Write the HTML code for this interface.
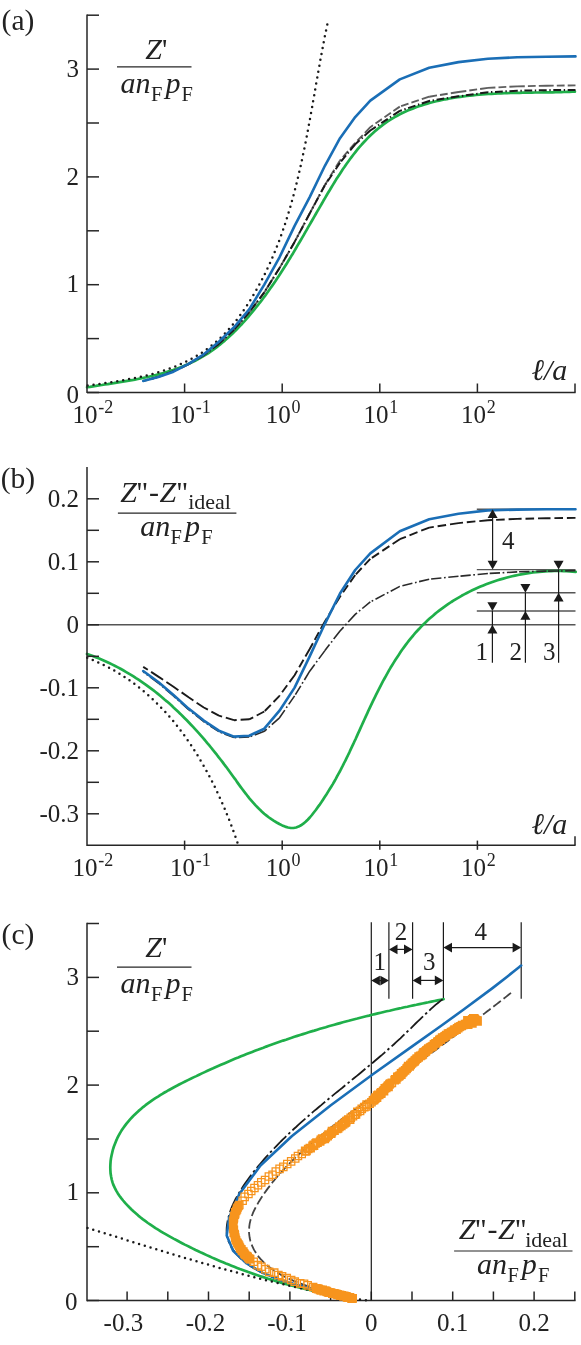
<!DOCTYPE html>
<html><head><meta charset="utf-8"><title>Figure</title>
<style>html,body{margin:0;padding:0;background:#fff}svg{display:block;will-change:transform}text{font-family:"Liberation Serif",serif;fill:#222}.i{font-style:italic}</style></head><body>
<svg width="581" height="1345" viewBox="0 0 581 1345">
<rect width="581" height="1345" fill="#fff"/>
<path d="M87.1,387.2 L90.0,386.8 L93.0,386.3 L95.9,385.9 L98.8,385.4 L101.8,385.0 L104.8,384.5 L107.8,384.1 L110.7,383.6 L113.7,383.2 L116.7,382.7 L119.7,382.2 L122.8,381.7 L125.8,381.2 L128.8,380.7 L131.8,380.2 L134.8,379.6 L137.8,379.0 L140.8,378.4 L143.8,377.8 L146.7,377.2 L149.7,376.5 L152.7,375.8 L155.6,375.1 L158.6,374.3 L161.5,373.5 L164.4,372.7 L167.3,371.8 L170.2,370.9 L173.1,370.0 L175.9,369.0 L178.7,367.9 L181.5,366.9 L184.3,365.7 L187.1,364.6 L189.8,363.3 L192.5,362.1 L195.2,360.7 L197.8,359.4 L200.4,357.9 L203.0,356.4 L205.5,354.9 L208.1,353.3 L210.5,351.6 L213.0,349.9 L215.4,348.1 L217.8,346.3 L220.2,344.4 L222.5,342.5 L224.8,340.6 L227.1,338.6 L229.3,336.5 L231.5,334.5 L233.7,332.4 L235.9,330.2 L238.0,328.1 L240.1,325.9 L242.2,323.7 L244.3,321.4 L246.3,319.1 L248.3,316.9 L250.3,314.5 L252.2,312.2 L254.1,309.9 L256.0,307.5 L257.9,305.2 L259.7,302.8 L261.6,300.4 L263.4,298.0 L265.2,295.6 L266.9,293.2 L268.7,290.7 L270.4,288.3 L272.1,285.9 L273.8,283.4 L275.5,280.9 L277.1,278.4 L278.8,275.9 L280.4,273.4 L282.0,270.9 L283.6,268.4 L285.2,265.9 L286.8,263.4 L288.4,260.8 L290.0,258.3 L291.5,255.7 L293.1,253.2 L294.6,250.6 L296.1,248.0 L297.6,245.4 L299.2,242.8 L300.7,240.3 L302.2,237.7 L303.7,235.1 L305.2,232.4 L306.7,229.8 L308.2,227.2 L309.7,224.6 L311.2,222.0 L312.8,219.3 L314.3,216.7 L315.8,214.0 L317.3,211.4 L318.8,208.8 L320.4,206.1 L321.9,203.5 L323.4,200.8 L325.0,198.1 L326.5,195.5 L328.1,192.8 L329.7,190.2 L331.3,187.5 L332.9,184.9 L334.5,182.3 L336.1,179.6 L337.8,177.0 L339.5,174.4 L341.1,171.9 L342.8,169.3 L344.6,166.8 L346.3,164.2 L348.1,161.8 L349.9,159.3 L351.7,156.9 L353.5,154.5 L355.4,152.1 L357.3,149.7 L359.2,147.4 L361.2,145.2 L363.1,143.0 L365.2,140.8 L367.2,138.6 L369.3,136.5 L371.4,134.5 L373.6,132.5 L375.7,130.6 L378.0,128.7 L380.2,126.9 L382.5,125.1 L384.9,123.4 L387.3,121.7 L389.7,120.1 L392.2,118.6 L394.7,117.1 L397.2,115.7 L399.8,114.3 L402.4,113.0 L405.1,111.8 L407.7,110.6 L410.5,109.5 L413.2,108.4 L416.0,107.3 L418.8,106.3 L421.6,105.4 L424.5,104.5 L427.4,103.6 L430.3,102.8 L433.2,102.0 L436.2,101.3 L439.1,100.6 L442.1,100.0 L445.1,99.3 L448.2,98.8 L451.2,98.2 L454.2,97.7 L457.3,97.2 L460.4,96.8 L463.5,96.4 L466.6,96.0 L469.7,95.6 L472.8,95.3 L476.0,95.0 L479.1,94.7 L482.2,94.5 L485.4,94.2 L488.5,94.0 L491.6,93.8 L494.8,93.7 L497.9,93.5 L501.0,93.4 L504.2,93.2 L507.3,93.1 L510.4,93.0 L513.5,92.9 L516.6,92.9 L519.7,92.8 L522.8,92.7 L525.8,92.7 L528.9,92.6 L531.9,92.6 L535.0,92.5 L538.0,92.5 L540.9,92.5 L543.9,92.4 L546.9,92.4 L549.8,92.3 L552.7,92.3 L555.6,92.2 L558.4,92.2 L561.2,92.1 L564.0,92.0 L566.8,91.9 L569.5,91.8 L572.2,91.7 L574.9,91.6" fill="none" stroke="#1faf4a" stroke-width="2.7" stroke-linejoin="round" stroke-linecap="round"/>
<path d="M87.6,385.6 L90.5,385.2 L93.3,384.8 L96.2,384.4 L99.2,384.0 L102.1,383.5 L105.1,383.1 L108.0,382.6 L111.0,382.2 L114.0,381.7 L117.0,381.2 L120.0,380.7 L123.0,380.2 L126.0,379.7 L129.0,379.1 L132.0,378.6 L135.0,378.0 L138.1,377.3 L141.1,376.7 L144.1,376.0 L147.1,375.3 L150.0,374.5 L153.0,373.8 L156.0,373.0 L158.9,372.1 L161.8,371.2 L164.8,370.3 L167.6,369.3 L170.5,368.3 L173.4,367.2 L176.2,366.1 L179.0,364.9 L181.7,363.7 L184.5,362.4 L187.2,361.1 L189.8,359.7 L192.5,358.3 L195.1,356.8 L197.7,355.3 L200.2,353.7 L202.7,352.1 L205.2,350.4 L207.6,348.7 L210.0,346.9 L212.3,345.0 L214.6,343.1 L216.9,341.2 L219.1,339.2 L221.2,337.1 L223.4,335.0 L225.5,332.9 L227.5,330.7 L229.5,328.5 L231.5,326.2 L233.4,323.9 L235.3,321.6 L237.2,319.2 L239.0,316.8 L240.8,314.4 L242.5,311.9 L244.2,309.5 L245.9,307.0 L247.6,304.4 L249.2,301.9 L250.8,299.3 L252.4,296.8 L253.9,294.2 L255.5,291.6 L256.9,289.0 L258.4,286.3 L259.8,283.7 L261.2,281.1 L262.6,278.4 L264.0,275.7 L265.3,273.0 L266.6,270.3 L267.9,267.6 L269.2,264.9 L270.4,262.2 L271.6,259.4 L272.8,256.7 L274.0,253.9 L275.1,251.1 L276.2,248.3 L277.3,245.5 L278.4,242.7 L279.5,239.9 L280.5,237.1 L281.5,234.3 L282.5,231.4 L283.5,228.6 L284.5,225.7 L285.4,222.8 L286.3,220.0 L287.2,217.1 L288.1,214.2 L289.0,211.3 L289.9,208.4 L290.7,205.5 L291.5,202.6 L292.3,199.6 L293.1,196.7 L293.9,193.8 L294.7,190.8 L295.4,187.9 L296.2,184.9 L296.9,182.0 L297.6,179.0 L298.3,176.1 L299.0,173.1 L299.7,170.1 L300.4,167.2 L301.0,164.2 L301.7,161.2 L302.3,158.2 L302.9,155.2 L303.6,152.2 L304.2,149.2 L304.8,146.3 L305.4,143.3 L306.0,140.3 L306.6,137.3 L307.1,134.3 L307.7,131.3 L308.3,128.3 L308.8,125.3 L309.4,122.3 L309.9,119.3 L310.5,116.3 L311.0,113.3 L311.5,110.3 L312.1,107.3 L312.6,104.3 L313.1,101.3 L313.6,98.3 L314.2,95.4 L314.7,92.4 L315.2,89.4 L315.7,86.4 L316.2,83.4 L316.8,80.5 L317.3,77.5 L317.8,74.5 L318.3,71.6 L318.9,68.6 L319.4,65.7 L319.9,62.7 L320.4,59.8 L321.0,56.8 L321.5,53.9 L322.1,51.0 L322.6,48.1 L323.2,45.1 L323.7,42.2 L324.3,39.3 L324.8,36.4 L325.4,33.6 L326.0,30.7 L326.6,27.8 L327.2,25.0 L327.8,22.1" fill="none" stroke="#1a1a1a" stroke-width="2.5" stroke-linejoin="round" stroke-dasharray="0 6" stroke-linecap="round"/>
<path d="M575.5,85.4L567.7,85.5M564.6,85.5L556.8,85.6M553.7,85.6L546.5,85.7M546.5,85.7L538.8,85.9M535.7,85.9L527.9,86.1M524.8,86.2L517.2,86.4M517.2,86.4L509.4,86.8M506.3,86.9L498.5,87.4M495.4,87.5L487.9,87.9M487.9,87.9L480.1,89.0M477.1,89.4L469.3,90.5M466.3,91.0L458.5,92.0M458.5,92.0L450.8,93.3M447.7,93.7L440.0,95.0M437.0,95.4L429.3,96.7M429.2,96.7L421.8,99.2M418.8,100.2L411.4,102.6M408.5,103.6L401.1,106.1M399.8,106.6L393.4,111.0M390.9,112.8L384.5,117.3M381.9,119.1L375.5,123.5M373.0,125.3L370.3,127.2M370.3,127.2L364.9,132.8M362.8,135.1L357.4,140.7M355.2,142.9L355.2,143.0M355.2,143.0L350.0,148.9M348.0,151.2L342.9,157.1M340.9,159.4L340.0,160.4M340.0,160.4L335.9,167.0M334.3,169.7L330.2,176.3M328.6,178.9L324.9,184.9M324.9,184.9L321.2,191.8M319.8,194.5L316.1,201.4M314.6,204.1L311.0,211.0M309.7,213.4L306.1,220.3M304.6,223.0L301.0,229.9M299.5,232.6L295.9,239.5M294.6,242.0L290.7,248.7M289.1,251.4L285.2,258.1M283.7,260.8L279.8,267.6M279.5,268.1L275.3,274.7M273.7,277.3L269.6,284.0M267.9,286.6L264.3,292.4M264.3,292.4L259.6,298.6M257.7,301.1L253.0,307.3M251.2,309.8L249.2,312.4M249.2,312.4L244.0,318.3M242.0,320.6L236.8,326.5M234.8,328.8L234.0,329.7M234.0,329.7L228.4,335.0M226.1,337.1L220.4,342.5M218.9,343.9L212.6,348.5M210.1,350.4L203.9,355.0M203.8,355.1L197.1,359.1M194.4,360.7L188.6,364.2M188.6,364.2L181.5,367.5M178.7,368.8L173.5,371.2M173.5,371.2L166.2,373.9M163.3,375.1L158.3,376.9M158.3,376.9L150.8,379.0M147.8,379.8L143.2,381.0" fill="none" stroke="#5e5e5e" stroke-width="1.9" stroke-linejoin="round" />
<path d="M575.5,89.9L567.7,90.0M565.1,90.0L563.7,90.0M561.1,90.0L553.3,90.1M550.7,90.1L549.3,90.2M546.7,90.2L546.5,90.2M546.5,90.2L538.8,90.3M536.2,90.4L534.8,90.4M532.2,90.5L524.4,90.6M521.8,90.7L520.4,90.7M517.8,90.8L517.2,90.8M517.2,90.8L509.4,91.2M506.8,91.3L505.4,91.3M502.8,91.5L495.0,91.9M492.4,92.0L491.0,92.1M488.4,92.2L487.9,92.2M487.9,92.2L480.1,93.3M477.6,93.7L476.2,93.9M473.6,94.2L465.9,95.3M463.3,95.7L461.9,95.9M459.3,96.2L458.5,96.3M458.5,96.3L450.8,97.6M448.2,98.0L446.8,98.2M444.3,98.6L436.6,99.8M434.0,100.2L432.6,100.4M430.1,100.8L429.2,101.0M429.2,101.0L421.8,103.5M419.3,104.3L418.0,104.7M415.5,105.6L408.1,108.1M405.7,108.9L404.3,109.4M401.9,110.2L399.8,110.9M399.8,110.9L393.3,115.2M391.1,116.6L390.0,117.4M387.8,118.9L381.3,123.2M379.2,124.6L378.0,125.4M375.8,126.8L370.3,130.5M370.3,130.5L364.5,135.7M362.6,137.5L361.6,138.4M359.6,140.2L355.2,144.3M355.2,144.3L350.2,150.3M348.6,152.3L347.7,153.4M346.0,155.4L341.1,161.4M340.0,162.8L335.7,169.2M334.2,171.4L333.4,172.5M332.0,174.7L327.6,181.2M326.2,183.3L325.4,184.5M324.9,185.2L321.2,192.1M320.0,194.4L319.3,195.6M318.1,197.9L314.4,204.8M313.2,207.1L312.5,208.3M311.3,210.6L309.7,213.5M309.7,213.5L306.1,220.4M304.9,222.7L304.2,223.9M303.0,226.2L299.3,233.1M298.1,235.4L297.4,236.6M296.2,238.9L294.6,241.9M294.6,241.9L290.7,248.7M289.4,250.9L288.7,252.2M287.4,254.4L283.5,261.2M282.2,263.4L281.5,264.6M280.2,266.9L279.5,268.1M279.5,268.1L275.3,274.7M274.0,276.9L273.2,278.1M271.8,280.3L267.7,286.9M266.3,289.1L265.6,290.3M264.3,292.4L259.6,298.6M258.0,300.7L257.2,301.8M255.6,303.9L250.9,310.1M249.4,312.2L249.2,312.4M249.2,312.4L244.0,318.3M242.3,320.2L241.4,321.3M239.7,323.2L234.5,329.1M234.0,329.7L228.4,335.0M226.5,336.8L225.4,337.7M223.5,339.5L218.9,343.9M218.9,343.9L212.6,348.5M210.5,350.1L209.4,350.9M207.3,352.5L203.8,355.1M203.8,355.1L197.1,359.1M194.9,360.5L193.7,361.2M191.4,362.5L188.6,364.2M188.6,364.2L181.5,367.5M179.2,368.6L177.9,369.1M175.5,370.2L173.5,371.2M173.5,371.2L166.2,373.9M163.8,374.9L162.5,375.4M160.0,376.3L158.3,376.9M158.3,376.9L150.8,379.0M148.3,379.6L146.9,380.0M144.4,380.7L143.2,381.0" fill="none" stroke="#1a1a1a" stroke-width="2.0" stroke-linejoin="round" />
<path d="M143.2,380.9 L158.3,377.0 L173.5,371.7 L188.6,363.9 L203.8,354.3 L218.9,341.7 L234.0,327.3 L249.2,309.4 L264.3,284.6 L279.5,257.3 L294.6,225.9 L309.7,197.1 L324.9,165.8 L340.0,138.2 L355.2,117.1 L370.3,100.6 L399.8,79.4 L429.2,67.7 L458.5,62.1 L487.9,58.8 L517.2,57.3 L546.5,56.7 L575.5,56.4" fill="none" stroke="#1a6eb6" stroke-width="2.6" stroke-linejoin="round" stroke-linecap="round"/>
<line x1="87.0" y1="14.4" x2="87.0" y2="393.1" stroke="#262626" stroke-width="1.5" />
<line x1="87.0" y1="392.5" x2="575.6" y2="392.5" stroke="#262626" stroke-width="1.5" />
<line x1="87.0" y1="392.5" x2="99.0" y2="392.5" stroke="#262626" stroke-width="1.5" />
<line x1="87.0" y1="338.6" x2="99.0" y2="338.6" stroke="#262626" stroke-width="1.5" />
<line x1="87.0" y1="284.7" x2="99.0" y2="284.7" stroke="#262626" stroke-width="1.5" />
<line x1="87.0" y1="230.8" x2="99.0" y2="230.8" stroke="#262626" stroke-width="1.5" />
<line x1="87.0" y1="176.9" x2="99.0" y2="176.9" stroke="#262626" stroke-width="1.5" />
<line x1="87.0" y1="123.0" x2="99.0" y2="123.0" stroke="#262626" stroke-width="1.5" />
<line x1="87.0" y1="69.1" x2="99.0" y2="69.1" stroke="#262626" stroke-width="1.5" />
<line x1="87.0" y1="15.2" x2="99.0" y2="15.2" stroke="#262626" stroke-width="1.5" />
<line x1="184.6" y1="392.5" x2="184.6" y2="383.5" stroke="#262626" stroke-width="1.5" />
<line x1="282.2" y1="392.5" x2="282.2" y2="383.5" stroke="#262626" stroke-width="1.5" />
<line x1="379.8" y1="392.5" x2="379.8" y2="383.5" stroke="#262626" stroke-width="1.5" />
<line x1="477.4" y1="392.5" x2="477.4" y2="383.5" stroke="#262626" stroke-width="1.5" />
<line x1="575.0" y1="392.5" x2="575.0" y2="383.5" stroke="#262626" stroke-width="1.5" />
<text x="79.0" y="402.5" font-size="25" text-anchor="end"  >0</text>
<text x="79.0" y="292.3" font-size="25" text-anchor="end"  >1</text>
<text x="79.0" y="184.5" font-size="25" text-anchor="end"  >2</text>
<text x="79.0" y="76.7" font-size="25" text-anchor="end"  >3</text>
<text x="72.4" y="422.7" font-size="25">10<tspan font-size="18" dy="-10.2" dx="0.8">-2</tspan></text>
<text x="170.0" y="422.7" font-size="25">10<tspan font-size="18" dy="-10.2" dx="0.8">-1</tspan></text>
<text x="265.8" y="422.7" font-size="25">10<tspan font-size="18" dy="-10.2" dx="0.8">0</tspan></text>
<text x="363.4" y="422.7" font-size="25">10<tspan font-size="18" dy="-10.2" dx="0.8">1</tspan></text>
<text x="461.0" y="422.7" font-size="25">10<tspan font-size="18" dy="-10.2" dx="0.8">2</tspan></text>
<text x="1.6" y="29.5" font-size="29.5" text-anchor="start"  >(a)</text>
<line x1="117.0" y1="66.9" x2="191.5" y2="66.9" stroke="#262626" stroke-width="1.2" />
<text x="145.3" y="58.9" font-size="30" text-anchor="start" class="i" >Z<tspan font-style="normal">'</tspan></text>
<text x="120.6" y="93.3" font-size="30" class="i">an</text>
<text x="151.0" y="100.8" font-size="20.5">F</text>
<text x="165.4" y="93.3" font-size="30" class="i">p</text>
<text x="181.6" y="100.8" font-size="20.5">F</text>
<text x="531.5" y="379.5" font-size="30" class="i">ℓ/a</text>
<line x1="87.0" y1="624.8" x2="575.5" y2="624.8" stroke="#555" stroke-width="1.4" />
<line x1="476.8" y1="509.3" x2="575.5" y2="509.3" stroke="#555" stroke-width="1.4" />
<line x1="476.8" y1="569.6" x2="575.5" y2="569.6" stroke="#555" stroke-width="1.4" />
<line x1="476.8" y1="592.8" x2="575.5" y2="592.8" stroke="#555" stroke-width="1.4" />
<line x1="476.8" y1="611.0" x2="575.5" y2="611.0" stroke="#555" stroke-width="1.4" />
<path d="M87.0,653.9 L90.0,655.0 L92.9,656.0 L95.7,657.2 L98.6,658.3 L101.4,659.5 L104.2,660.7 L107.0,662.0 L109.7,663.3 L112.5,664.6 L115.2,666.0 L117.9,667.4 L120.5,668.8 L123.2,670.3 L125.8,671.8 L128.4,673.3 L131.0,674.8 L133.5,676.4 L136.0,678.1 L138.5,679.7 L141.0,681.4 L143.5,683.1 L146.0,684.8 L148.4,686.6 L150.8,688.4 L153.2,690.2 L155.6,692.0 L157.9,693.9 L160.2,695.8 L162.5,697.7 L164.8,699.7 L167.1,701.6 L169.4,703.6 L171.6,705.6 L173.8,707.7 L176.0,709.7 L178.2,711.8 L180.4,713.9 L182.5,716.0 L184.7,718.2 L186.8,720.3 L188.9,722.5 L191.0,724.7 L193.1,726.9 L195.1,729.1 L197.2,731.4 L199.2,733.6 L201.2,735.9 L203.2,738.2 L205.2,740.5 L207.1,742.9 L209.1,745.2 L211.0,747.5 L212.9,749.9 L214.9,752.3 L216.8,754.7 L218.6,757.1 L220.5,759.5 L222.4,761.9 L224.2,764.4 L226.1,766.8 L227.9,769.3 L229.7,771.7 L231.5,774.2 L233.3,776.7 L235.1,779.1 L236.8,781.6 L238.6,784.1 L240.4,786.6 L242.2,789.0 L244.0,791.4 L245.9,793.8 L247.7,796.2 L249.6,798.6 L251.6,800.9 L253.6,803.1 L255.6,805.4 L257.7,807.5 L259.8,809.6 L262.0,811.7 L264.2,813.7 L266.6,815.6 L269.0,817.5 L271.4,819.2 L274.0,820.9 L276.7,822.5 L279.4,824.0 L282.2,825.4 L285.1,826.6 L288.0,827.5 L290.8,828.0 L293.5,828.0 L296.1,827.5 L298.6,826.6 L301.0,825.3 L303.3,823.7 L305.6,821.8 L307.7,819.7 L309.8,817.5 L311.9,815.0 L313.8,812.5 L315.8,810.0 L317.6,807.4 L319.5,804.9 L321.3,802.3 L323.0,799.7 L324.7,797.1 L326.4,794.5 L328.0,791.9 L329.6,789.3 L331.2,786.7 L332.8,784.1 L334.3,781.5 L335.8,778.9 L337.2,776.2 L338.6,773.6 L340.1,771.0 L341.4,768.3 L342.8,765.7 L344.1,763.0 L345.5,760.3 L346.8,757.7 L348.1,755.0 L349.4,752.3 L350.6,749.6 L351.9,746.9 L353.2,744.2 L354.4,741.5 L355.7,738.8 L356.9,736.1 L358.1,733.4 L359.4,730.6 L360.6,727.9 L361.8,725.2 L363.1,722.4 L364.3,719.7 L365.6,716.9 L366.9,714.2 L368.1,711.4 L369.4,708.7 L370.7,705.9 L372.0,703.1 L373.3,700.4 L374.7,697.6 L376.0,694.9 L377.4,692.1 L378.8,689.4 L380.2,686.6 L381.6,683.9 L383.0,681.2 L384.5,678.5 L386.0,675.8 L387.5,673.1 L389.0,670.4 L390.5,667.8 L392.1,665.2 L393.7,662.6 L395.3,660.0 L397.0,657.4 L398.7,654.9 L400.4,652.3 L402.1,649.8 L403.9,647.4 L405.7,644.9 L407.5,642.5 L409.3,640.2 L411.2,637.8 L413.2,635.5 L415.1,633.2 L417.1,631.0 L419.2,628.8 L421.2,626.6 L423.3,624.5 L425.5,622.4 L427.7,620.3 L429.9,618.3 L432.1,616.4 L434.4,614.4 L436.7,612.5 L439.1,610.7 L441.5,608.9 L443.9,607.1 L446.3,605.4 L448.8,603.7 L451.3,602.0 L453.8,600.4 L456.4,598.8 L459.0,597.3 L461.6,595.8 L464.2,594.4 L466.9,593.0 L469.5,591.6 L472.2,590.3 L475.0,589.0 L477.7,587.8 L480.5,586.6 L483.3,585.4 L486.1,584.3 L488.9,583.2 L491.7,582.2 L494.6,581.2 L497.5,580.3 L500.4,579.4 L503.3,578.6 L506.2,577.8 L509.1,577.0 L512.1,576.3 L515.0,575.6 L518.0,575.0 L521.0,574.4 L524.0,573.9 L527.0,573.4 L530.0,572.9 L533.0,572.5 L536.0,572.2 L539.1,571.9 L542.1,571.6 L545.1,571.4 L548.2,571.2 L551.2,571.1 L554.3,571.0 L557.3,571.0 L560.4,571.0 L563.5,571.1 L566.5,571.2 L569.6,571.4 L572.6,571.6 L575.7,571.8" fill="none" stroke="#1faf4a" stroke-width="2.7" stroke-linejoin="round" stroke-linecap="round"/>
<path d="M87.2,657.8 L90.1,659.0 L93.1,660.2 L96.0,661.4 L98.8,662.7 L101.7,664.0 L104.5,665.4 L107.2,666.8 L110.0,668.2 L112.7,669.7 L115.3,671.2 L118.0,672.8 L120.6,674.4 L123.2,676.0 L125.7,677.7 L128.3,679.4 L130.8,681.2 L133.2,683.0 L135.7,684.8 L138.1,686.7 L140.4,688.5 L142.8,690.5 L145.1,692.4 L147.4,694.4 L149.7,696.4 L151.9,698.5 L154.1,700.6 L156.3,702.7 L158.4,704.8 L160.5,707.0 L162.6,709.2 L164.7,711.4 L166.8,713.6 L168.8,715.9 L170.8,718.2 L172.7,720.5 L174.7,722.9 L176.6,725.3 L178.5,727.7 L180.3,730.1 L182.2,732.5 L184.0,735.0 L185.7,737.5 L187.5,740.0 L189.2,742.5 L191.0,745.0 L192.6,747.6 L194.3,750.2 L196.0,752.8 L197.6,755.4 L199.2,758.0 L200.7,760.7 L202.3,763.3 L203.8,766.0 L205.3,768.7 L206.8,771.4 L208.2,774.1 L209.7,776.8 L211.1,779.6 L212.5,782.3 L213.9,785.1 L215.2,787.8 L216.5,790.6 L217.8,793.4 L219.1,796.2 L220.4,799.0 L221.6,801.8 L222.9,804.6 L224.1,807.4 L225.3,810.2 L226.4,813.1 L227.6,815.9 L228.7,818.7 L229.8,821.6 L230.9,824.4 L232.0,827.2 L233.0,830.1 L234.1,832.9 L235.1,835.8 L236.1,838.6 L237.1,841.4 L238.0,844.3" fill="none" stroke="#1a1a1a" stroke-width="2.5" stroke-linejoin="round" stroke-dasharray="0 6" stroke-linecap="round"/>
<path d="M575.5,570.8L565.2,570.9M562.6,570.9L560.9,571.0M558.3,571.0L548.0,571.1M546.5,571.1L536.3,571.4M533.7,571.5L532.0,571.5M529.4,571.6L519.1,571.8M517.2,571.9L506.9,572.5M504.3,572.6L502.6,572.7M500.0,572.9L489.7,573.4M487.9,573.5L477.6,574.5M475.0,574.7L473.3,574.9M470.7,575.1L460.5,576.1M458.5,576.3L448.3,577.3M445.7,577.5L444.0,577.7M441.4,578.0L431.1,579.0M429.2,579.2L419.1,581.6M416.6,582.3L415.0,582.7M412.4,583.3L402.4,585.7M399.9,586.4L399.8,586.4M399.8,586.4L390.7,591.2M388.4,592.4L386.9,593.2M384.6,594.4L375.5,599.2M373.2,600.4L371.7,601.2M370.3,601.9L362.3,608.5M360.3,610.1L359.0,611.2M357.0,612.8L355.2,614.4M355.2,614.4L348.2,622.0M346.5,623.9L345.3,625.1M343.6,627.1L340.0,631.0M340.0,631.0L333.7,639.1M332.2,641.2L331.1,642.5M329.5,644.6L324.9,650.6M324.9,650.6L318.8,658.9M317.2,661.0L316.2,662.4M314.7,664.5L309.7,671.2M309.7,671.2L304.4,680.0M303.0,682.2L302.1,683.7M300.8,685.9L295.4,694.7M294.6,695.9L288.7,704.4M287.2,706.5L286.3,707.9M284.8,710.1L279.5,717.8M279.5,717.8L271.8,724.6M269.9,726.4L268.6,727.5M266.7,729.2L264.3,731.3M264.3,731.3L254.7,734.9M252.2,735.8L250.6,736.4M249.2,736.9L238.9,737.4M236.3,737.5L234.6,737.6M234.0,737.6L224.4,733.9M222.0,732.9L220.4,732.3M218.9,731.7L210.3,726.0M208.2,724.6L206.8,723.7M204.6,722.2L203.8,721.7M203.8,721.7L195.7,715.2M193.7,713.6L192.3,712.6M190.3,710.9L188.6,709.6M188.6,709.6L180.9,702.7M179.0,701.0L177.7,699.8M175.8,698.1L173.5,696.0M173.5,696.0L165.7,689.3M163.7,687.6L162.4,686.5M160.5,684.8L158.3,683.0M158.3,683.0L150.0,676.9M147.9,675.4L146.6,674.4M144.5,672.8L143.2,671.9" fill="none" stroke="#2a2a2a" stroke-width="1.6" stroke-linejoin="round" />
<path d="M575.5,517.9L566.9,518.0M563.0,518.0L554.4,518.1M550.5,518.2L546.5,518.2M546.5,518.2L538.0,518.4M534.1,518.5L525.5,518.7M521.6,518.8L517.2,518.9M517.2,518.9L508.6,519.3M504.7,519.5L496.1,519.9M492.2,520.0L487.9,520.2M487.9,520.2L479.3,521.1M475.4,521.4L466.8,522.3M463.0,522.6L458.5,523.1M458.5,523.1L450.0,524.4M446.1,525.0L437.6,526.3M433.8,526.9L429.2,527.6M429.2,527.6L421.2,530.7M417.5,532.2L409.5,535.3M405.9,536.8L399.8,539.2M399.8,539.2L392.6,544.0M389.4,546.1L382.3,550.9M379.0,553.1L371.9,557.9M370.3,558.9L364.4,565.2M361.7,568.0L355.9,574.3M355.2,575.0L350.2,582.1M348.0,585.3L343.1,592.3M340.8,595.5L340.0,596.7M340.0,596.7L335.5,604.0M333.5,607.3L329.0,614.7M327.0,618.0L324.9,621.4M324.9,621.4L320.7,628.9M318.9,632.3L314.7,639.9M312.9,643.3L309.7,649.0M309.7,649.0L305.4,656.4M303.5,659.8L299.2,667.2M297.2,670.6L294.6,675.2M294.6,675.2L289.5,682.1M287.2,685.2L282.1,692.2M279.8,695.3L279.5,695.8M279.5,695.8L273.5,702.0M270.8,704.8L264.8,711.0M264.3,711.5L256.7,715.5M253.2,717.3L249.2,719.3M249.2,719.3L240.6,719.8M236.7,720.0L234.0,720.2M234.0,720.2L225.8,717.7M222.1,716.6L218.9,715.7M218.9,715.7L211.4,711.6M207.9,709.7L203.8,707.5M203.8,707.5L196.6,702.7M193.4,700.5L188.6,697.3M188.6,697.3L181.6,692.4M178.4,690.2L173.5,686.8M173.5,686.8L166.4,682.0M163.1,679.8L158.3,676.6M158.3,676.6L151.1,671.9M147.8,669.8L143.2,666.9" fill="none" stroke="#1a1a1a" stroke-width="1.9" stroke-linejoin="round" />
<path d="M143.2,671.0 L158.3,682.0 L173.5,695.0 L188.6,708.6 L203.8,720.6 L218.9,730.7 L234.0,736.6 L249.2,735.7 L264.3,728.7 L279.5,710.7 L294.6,687.6 L309.7,656.4 L324.9,623.8 L340.0,593.5 L355.2,570.0 L370.3,553.4 L399.8,531.2 L429.2,519.2 L458.5,513.7 L487.9,510.4 L517.2,509.6 L546.5,509.3 L575.5,509.2" fill="none" stroke="#1a6eb6" stroke-width="2.6" stroke-linejoin="round" stroke-linecap="round"/>
<line x1="492.6" y1="512.0" x2="492.6" y2="566.0" stroke="#1a1a1a" stroke-width="1.2" />
<polygon points="492.6,509.3 487.6,518.1 497.6,518.1" fill="#1a1a1a"/>
<polygon points="492.6,569.6 487.6,560.8 497.6,560.8" fill="#1a1a1a"/>
<text x="502.0" y="548.5" font-size="25" text-anchor="start"  >4</text>
<line x1="492.4" y1="611.0" x2="492.4" y2="662.7" stroke="#1a1a1a" stroke-width="1.2" />
<polygon points="492.4,624.8 487.4,633.6 497.4,633.6" fill="#1a1a1a"/>
<polygon points="492.4,611.0 487.4,602.2 497.4,602.2" fill="#1a1a1a"/>
<line x1="525.4" y1="592.8" x2="525.4" y2="662.7" stroke="#1a1a1a" stroke-width="1.2" />
<polygon points="525.4,611.0 520.4,619.8 530.4,619.8" fill="#1a1a1a"/>
<polygon points="525.4,592.8 520.4,584.0 530.4,584.0" fill="#1a1a1a"/>
<line x1="558.6" y1="569.6" x2="558.6" y2="662.7" stroke="#1a1a1a" stroke-width="1.2" />
<polygon points="558.6,592.8 553.6,601.6 563.6,601.6" fill="#1a1a1a"/>
<polygon points="558.6,569.6 553.6,560.8 563.6,560.8" fill="#1a1a1a"/>
<text x="475.5" y="660.3" font-size="25" text-anchor="start"  >1</text>
<text x="509.5" y="660.3" font-size="25" text-anchor="start"  >2</text>
<text x="543.0" y="660.3" font-size="25" text-anchor="start"  >3</text>
<line x1="87.0" y1="467.1" x2="87.0" y2="845.9" stroke="#262626" stroke-width="1.5" />
<line x1="87.0" y1="845.2" x2="575.6" y2="845.2" stroke="#262626" stroke-width="1.5" />
<line x1="87.0" y1="813.8" x2="99.0" y2="813.8" stroke="#262626" stroke-width="1.5" />
<line x1="87.0" y1="782.3" x2="99.0" y2="782.3" stroke="#262626" stroke-width="1.5" />
<line x1="87.0" y1="750.8" x2="99.0" y2="750.8" stroke="#262626" stroke-width="1.5" />
<line x1="87.0" y1="719.3" x2="99.0" y2="719.3" stroke="#262626" stroke-width="1.5" />
<line x1="87.0" y1="687.8" x2="99.0" y2="687.8" stroke="#262626" stroke-width="1.5" />
<line x1="87.0" y1="656.3" x2="99.0" y2="656.3" stroke="#262626" stroke-width="1.5" />
<line x1="87.0" y1="624.8" x2="99.0" y2="624.8" stroke="#262626" stroke-width="1.5" />
<line x1="87.0" y1="593.3" x2="99.0" y2="593.3" stroke="#262626" stroke-width="1.5" />
<line x1="87.0" y1="561.8" x2="99.0" y2="561.8" stroke="#262626" stroke-width="1.5" />
<line x1="87.0" y1="530.3" x2="99.0" y2="530.3" stroke="#262626" stroke-width="1.5" />
<line x1="87.0" y1="498.8" x2="99.0" y2="498.8" stroke="#262626" stroke-width="1.5" />
<line x1="184.6" y1="849.8" x2="184.6" y2="840.6" stroke="#262626" stroke-width="1.5" />
<line x1="282.2" y1="849.8" x2="282.2" y2="840.6" stroke="#262626" stroke-width="1.5" />
<line x1="379.8" y1="849.8" x2="379.8" y2="840.6" stroke="#262626" stroke-width="1.5" />
<line x1="477.4" y1="849.8" x2="477.4" y2="840.6" stroke="#262626" stroke-width="1.5" />
<line x1="575.0" y1="845.2" x2="575.0" y2="836.2" stroke="#262626" stroke-width="1.5" />
<text x="79.0" y="507.4" font-size="25" text-anchor="end"  >0.2</text>
<text x="79.0" y="570.4" font-size="25" text-anchor="end"  >0.1</text>
<text x="79.0" y="633.4" font-size="25" text-anchor="end"  >0</text>
<text x="79.0" y="696.4" font-size="25" text-anchor="end"  >-0.1</text>
<text x="79.0" y="759.4" font-size="25" text-anchor="end"  >-0.2</text>
<text x="79.0" y="822.4" font-size="25" text-anchor="end"  >-0.3</text>
<text x="72.4" y="875.7" font-size="25">10<tspan font-size="18" dy="-10.2" dx="0.8">-2</tspan></text>
<text x="170.0" y="875.7" font-size="25">10<tspan font-size="18" dy="-10.2" dx="0.8">-1</tspan></text>
<text x="265.8" y="875.7" font-size="25">10<tspan font-size="18" dy="-10.2" dx="0.8">0</tspan></text>
<text x="363.4" y="875.7" font-size="25">10<tspan font-size="18" dy="-10.2" dx="0.8">1</tspan></text>
<text x="461.0" y="875.7" font-size="25">10<tspan font-size="18" dy="-10.2" dx="0.8">2</tspan></text>
<text x="0.8" y="487.6" font-size="29.5" text-anchor="start"  >(b)</text>
<line x1="117.9" y1="513.2" x2="236.4" y2="513.2" stroke="#262626" stroke-width="1.2" />
<text x="120.2" y="501.6" font-size="30" class="i">Z</text>
<text x="136.8" y="501.6" font-size="30">''</text>
<text x="148.9" y="501.6" font-size="30">-</text>
<text x="159.5" y="501.6" font-size="30" class="i">Z</text>
<text x="176.8" y="501.6" font-size="30">''</text>
<text x="188.2" y="509.2" font-size="22">ideal</text>
<text x="140.2" y="536.2" font-size="30" class="i">an</text>
<text x="170.6" y="543.7" font-size="20.5">F</text>
<text x="185.0" y="536.2" font-size="30" class="i">p</text>
<text x="201.2" y="543.7" font-size="20.5">F</text>
<text x="531.5" y="834.4" font-size="30" class="i">ℓ/a</text>
<line x1="87.0" y1="922.8" x2="87.0" y2="1301.2" stroke="#262626" stroke-width="1.5" />
<line x1="87.0" y1="1300.5" x2="575.6" y2="1300.5" stroke="#262626" stroke-width="1.5" />
<line x1="87.0" y1="1300.5" x2="99.0" y2="1300.5" stroke="#262626" stroke-width="1.5" />
<line x1="87.0" y1="1246.7" x2="99.0" y2="1246.7" stroke="#262626" stroke-width="1.5" />
<line x1="87.0" y1="1192.8" x2="99.0" y2="1192.8" stroke="#262626" stroke-width="1.5" />
<line x1="87.0" y1="1139.0" x2="99.0" y2="1139.0" stroke="#262626" stroke-width="1.5" />
<line x1="87.0" y1="1085.1" x2="99.0" y2="1085.1" stroke="#262626" stroke-width="1.5" />
<line x1="87.0" y1="1031.2" x2="99.0" y2="1031.2" stroke="#262626" stroke-width="1.5" />
<line x1="87.0" y1="977.4" x2="99.0" y2="977.4" stroke="#262626" stroke-width="1.5" />
<line x1="87.0" y1="923.5" x2="99.0" y2="923.5" stroke="#262626" stroke-width="1.5" />
<line x1="127.1" y1="1300.5" x2="127.1" y2="1291.5" stroke="#262626" stroke-width="1.5" />
<line x1="167.8" y1="1300.5" x2="167.8" y2="1291.5" stroke="#262626" stroke-width="1.5" />
<line x1="208.5" y1="1300.5" x2="208.5" y2="1291.5" stroke="#262626" stroke-width="1.5" />
<line x1="249.2" y1="1300.5" x2="249.2" y2="1291.5" stroke="#262626" stroke-width="1.5" />
<line x1="289.9" y1="1300.5" x2="289.9" y2="1291.5" stroke="#262626" stroke-width="1.5" />
<line x1="330.6" y1="1300.5" x2="330.6" y2="1291.5" stroke="#262626" stroke-width="1.5" />
<line x1="371.3" y1="1300.5" x2="371.3" y2="1291.5" stroke="#262626" stroke-width="1.5" />
<line x1="412.0" y1="1300.5" x2="412.0" y2="1291.5" stroke="#262626" stroke-width="1.5" />
<line x1="452.7" y1="1300.5" x2="452.7" y2="1291.5" stroke="#262626" stroke-width="1.5" />
<line x1="493.4" y1="1300.5" x2="493.4" y2="1291.5" stroke="#262626" stroke-width="1.5" />
<line x1="534.1" y1="1300.5" x2="534.1" y2="1291.5" stroke="#262626" stroke-width="1.5" />
<line x1="574.8" y1="1300.5" x2="574.8" y2="1291.5" stroke="#262626" stroke-width="1.5" />
<line x1="371.3" y1="922.2" x2="371.3" y2="1300.5" stroke="#1a1a1a" stroke-width="1.2" />
<line x1="388.9" y1="922.2" x2="388.9" y2="998.7" stroke="#1a1a1a" stroke-width="1.2" />
<line x1="412.6" y1="922.2" x2="412.6" y2="998.7" stroke="#1a1a1a" stroke-width="1.2" />
<line x1="443.4" y1="922.2" x2="443.4" y2="998.7" stroke="#1a1a1a" stroke-width="1.2" />
<line x1="521.2" y1="922.2" x2="521.2" y2="998.7" stroke="#1a1a1a" stroke-width="1.2" />
<path d="M443.6,999.2 L440.6,999.8 L437.5,1000.4 L434.5,1001.0 L431.4,1001.6 L428.4,1002.3 L425.4,1002.9 L422.4,1003.5 L419.4,1004.1 L416.4,1004.8 L413.4,1005.4 L410.4,1006.0 L407.4,1006.7 L404.4,1007.3 L401.4,1008.0 L398.5,1008.6 L395.5,1009.3 L392.5,1010.0 L389.6,1010.7 L386.6,1011.3 L383.7,1012.0 L380.7,1012.7 L377.8,1013.4 L374.9,1014.1 L372.0,1014.8 L369.0,1015.6 L366.1,1016.3 L363.2,1017.0 L360.3,1017.7 L357.4,1018.5 L354.5,1019.2 L351.6,1020.0 L348.7,1020.8 L345.8,1021.5 L342.9,1022.3 L340.1,1023.1 L337.2,1023.9 L334.3,1024.7 L331.4,1025.5 L328.6,1026.3 L325.7,1027.2 L322.9,1028.0 L320.0,1028.8 L317.2,1029.7 L314.3,1030.6 L311.5,1031.4 L308.6,1032.3 L305.8,1033.2 L302.9,1034.1 L300.1,1035.0 L297.3,1035.9 L294.4,1036.8 L291.6,1037.8 L288.8,1038.7 L286.0,1039.7 L283.1,1040.6 L280.3,1041.6 L277.5,1042.6 L274.7,1043.6 L271.9,1044.6 L269.1,1045.6 L266.2,1046.6 L263.4,1047.7 L260.6,1048.7 L257.8,1049.8 L255.0,1050.8 L252.2,1051.9 L249.4,1053.0 L246.6,1054.1 L243.8,1055.2 L241.0,1056.3 L238.2,1057.5 L235.4,1058.6 L232.6,1059.8 L229.8,1061.0 L227.0,1062.2 L224.2,1063.4 L221.5,1064.6 L218.7,1065.8 L215.9,1067.0 L213.1,1068.3 L210.3,1069.5 L207.5,1070.8 L204.7,1072.1 L201.9,1073.4 L199.1,1074.7 L196.3,1076.1 L193.5,1077.4 L190.7,1078.8 L187.9,1080.1 L185.1,1081.5 L182.4,1082.9 L179.6,1084.3 L176.8,1085.8 L174.0,1087.2 L171.3,1088.7 L168.6,1090.2 L165.9,1091.8 L163.2,1093.3 L160.6,1094.9 L158.0,1096.6 L155.4,1098.2 L152.8,1099.9 L150.4,1101.6 L147.9,1103.4 L145.5,1105.2 L143.1,1107.1 L140.9,1109.0 L138.6,1110.9 L136.4,1112.9 L134.3,1114.9 L132.3,1117.0 L130.3,1119.1 L128.4,1121.3 L126.5,1123.6 L124.8,1125.9 L123.1,1128.2 L121.5,1130.6 L120.0,1133.1 L118.6,1135.6 L117.3,1138.2 L116.1,1140.9 L115.0,1143.7 L113.9,1146.5 L113.0,1149.3 L112.3,1152.3 L111.6,1155.3 L111.0,1158.3 L110.6,1161.3 L110.4,1164.4 L110.3,1167.5 L110.4,1170.5 L110.6,1173.6 L111.1,1176.5 L111.7,1179.5 L112.5,1182.4 L113.5,1185.2 L114.8,1187.9 L116.2,1190.6 L117.7,1193.2 L119.4,1195.7 L121.2,1198.1 L123.1,1200.5 L125.1,1202.9 L127.2,1205.1 L129.3,1207.3 L131.5,1209.5 L133.7,1211.6 L136.0,1213.6 L138.3,1215.6 L140.6,1217.5 L143.0,1219.4 L145.5,1221.2 L147.9,1223.0 L150.4,1224.7 L153.0,1226.4 L155.5,1228.1 L158.1,1229.7 L160.7,1231.3 L163.3,1232.9 L166.0,1234.4 L168.6,1235.9 L171.3,1237.4 L174.0,1238.9 L176.7,1240.3 L179.4,1241.8 L182.1,1243.2 L184.8,1244.6 L187.5,1245.9 L190.2,1247.3 L192.9,1248.6 L195.6,1250.0 L198.4,1251.3 L201.1,1252.6 L203.8,1253.8 L206.6,1255.1 L209.3,1256.3 L212.1,1257.6 L214.8,1258.8 L217.6,1260.0 L220.4,1261.2 L223.1,1262.3 L225.9,1263.5 L228.7,1264.6 L231.5,1265.7 L234.3,1266.8 L237.1,1267.9 L239.9,1269.0 L242.7,1270.0 L245.5,1271.0 L248.3,1272.1 L251.1,1273.1 L254.0,1274.1 L256.8,1275.0 L259.6,1276.0 L262.5,1276.9 L265.3,1277.8 L268.2,1278.8 L271.1,1279.6 L274.0,1280.5 L276.8,1281.4 L279.7,1282.2 L282.6,1283.1 L285.5,1283.9 L288.4,1284.7 L291.3,1285.4 L294.3,1286.2 L297.2,1287.0 L300.1,1287.7 L303.1,1288.4 L306.0,1289.1 L309.0,1289.8 L311.9,1290.5 L314.9,1291.1 L317.9,1291.8 L320.8,1292.4 L323.8,1293.0 L326.8,1293.6 L329.8,1294.2 L332.9,1294.7" fill="none" stroke="#1faf4a" stroke-width="2.7" stroke-linejoin="round" stroke-linecap="round"/>
<path d="M87.5,1227.9 L90.4,1228.8 L93.3,1229.7 L96.2,1230.6 L99.2,1231.5 L102.1,1232.4 L105.0,1233.3 L107.9,1234.2 L110.8,1235.2 L113.7,1236.1 L116.6,1237.0 L119.6,1237.9 L122.5,1238.8 L125.4,1239.7 L128.3,1240.6 L131.2,1241.5 L134.2,1242.4 L137.1,1243.3 L140.0,1244.2 L142.9,1245.1 L145.8,1246.0 L148.8,1246.9 L151.7,1247.8 L154.6,1248.7 L157.5,1249.6 L160.5,1250.5 L163.4,1251.4 L166.3,1252.3 L169.3,1253.2 L172.2,1254.1 L175.1,1255.0 L178.1,1255.8 L181.0,1256.7 L183.9,1257.6 L186.9,1258.4 L189.8,1259.3 L192.7,1260.2 L195.7,1261.0 L198.6,1261.9 L201.5,1262.7 L204.5,1263.6 L207.4,1264.4 L210.4,1265.3 L213.3,1266.1 L216.3,1266.9 L219.2,1267.8 L222.2,1268.6 L225.1,1269.4 L228.1,1270.2 L231.0,1271.0 L234.0,1271.8 L236.9,1272.6 L239.9,1273.4 L242.8,1274.2 L245.8,1275.0 L248.8,1275.7 L251.7,1276.5 L254.7,1277.3 L257.6,1278.0 L260.6,1278.8 L263.6,1279.5 L266.5,1280.3 L269.5,1281.0 L272.5,1281.7 L275.5,1282.4 L278.4,1283.1 L281.4,1283.9 L284.4,1284.5 L287.4,1285.2 L290.3,1285.9 L293.3,1286.6 L296.3,1287.3 L299.3,1287.9 L302.3,1288.6 L305.3,1289.2 L308.3,1289.9 L311.3,1290.5 L314.2,1291.1 L317.2,1291.7 L320.2,1292.3 L323.2,1292.9 L326.2,1293.5 L329.2,1294.1 L332.2,1294.6 L335.2,1295.2 L338.3,1295.7 L341.3,1296.3 L344.3,1296.8 L347.3,1297.3 L350.3,1297.8 L353.3,1298.3 L356.3,1298.8 L359.4,1299.3 L362.4,1299.8 L365.4,1300.2 L368.4,1300.7" fill="none" stroke="#1a1a1a" stroke-width="2.5" stroke-linejoin="round" stroke-dasharray="0 6" stroke-linecap="round"/>
<path d="M511.0,992.9 L508.6,994.7 L506.3,996.6 L503.9,998.5 L501.5,1000.4 L499.1,1002.2 L496.7,1004.1 L494.2,1006.0 L491.8,1007.8 L489.4,1009.7 L487.0,1011.5 L484.6,1013.4 L482.2,1015.2 L479.8,1017.0 L477.3,1018.9 L474.9,1020.7 L472.5,1022.5 L470.0,1024.3 L467.6,1026.2 L465.2,1028.0 L462.8,1029.8 L460.3,1031.6 L457.9,1033.4 L455.4,1035.2 L453.0,1037.1 L450.6,1038.9 L448.1,1040.7 L445.7,1042.5 L443.2,1044.3 L440.8,1046.1 L438.3,1047.9 L435.9,1049.7 L433.5,1051.5 L431.0,1053.3 L428.6,1055.1 L426.1,1056.8 L423.7,1058.6 L421.2,1060.4 L418.8,1062.2 L416.3,1064.0 L413.9,1065.8 L411.4,1067.6 L409.0,1069.4 L406.5,1071.2 L404.1,1073.0 L401.6,1074.8 L399.2,1076.6 L396.7,1078.4 L394.3,1080.2 L391.8,1082.0 L389.4,1083.8 L386.9,1085.6 L384.5,1087.4 L382.0,1089.2 L379.6,1091.0 L377.1,1092.8 L374.7,1094.6 L372.2,1096.4 L369.8,1098.2 L367.4,1100.0 L364.9,1101.8 L362.5,1103.6 L360.1,1105.5 L357.6,1107.3 L355.2,1109.1 L352.8,1110.9 L350.3,1112.8 L347.9,1114.6 L345.5,1116.4 L343.1,1118.3 L340.6,1120.1 L338.2,1122.0 L335.8,1123.8 L333.4,1125.7 L331.0,1127.5 L328.6,1129.4 L326.2,1131.3 L323.8,1133.2 L321.4,1135.1 L319.1,1137.0 L316.7,1138.9 L314.4,1140.9 L312.0,1142.8 L309.7,1144.8 L307.4,1146.8 L305.1,1148.8 L302.9,1150.8 L300.6,1152.8 L298.4,1154.9 L296.1,1156.9 L294.0,1159.0 L291.8,1161.1 L289.6,1163.3 L287.5,1165.4 L285.4,1167.6 L283.3,1169.8 L281.3,1172.1 L279.2,1174.4 L277.2,1176.7 L275.3,1179.0 L273.3,1181.3 L271.4,1183.7 L269.6,1186.1 L267.7,1188.6 L265.9,1191.1 L264.1,1193.6 L262.4,1196.2 L260.7,1198.8 L259.0,1201.4 L257.5,1204.1 L256.0,1206.7 L254.6,1209.5 L253.3,1212.2 L252.2,1215.0 L251.2,1217.8 L250.4,1220.6 L249.7,1223.5 L249.3,1226.4 L249.1,1229.3 L249.0,1232.2 L249.3,1235.1 L249.7,1238.0 L250.4,1241.0 L251.4,1243.8 L252.5,1246.7 L253.8,1249.4 L255.4,1252.1 L257.1,1254.6 L258.9,1257.1 L260.9,1259.4 L263.1,1261.7 L265.3,1263.8 L267.7,1265.8 L270.1,1267.8 L272.7,1269.6 L275.3,1271.4 L277.9,1273.0 L280.6,1274.6 L283.3,1276.0 L286.0,1277.4 L288.8,1278.7 L291.5,1279.9 L294.3,1281.1 L297.1,1282.2 L299.9,1283.2 L302.7,1284.3 L305.5,1285.3 L308.3,1286.3 L311.2,1287.3 L314.0,1288.3 L316.8,1289.3" fill="none" stroke="#444" stroke-width="1.8" stroke-linejoin="round" stroke-dasharray="9.5 3.4"/>
<path d="M442.6,999.2 L440.2,1001.1 L437.9,1003.0 L435.5,1004.9 L433.3,1006.9 L431.0,1008.9 L428.8,1011.0 L426.6,1013.0 L424.3,1015.1 L422.2,1017.2 L420.0,1019.3 L417.8,1021.4 L415.6,1023.5 L413.5,1025.6 L411.3,1027.8 L409.1,1029.9 L406.9,1032.0 L404.8,1034.1 L402.6,1036.2 L400.4,1038.3 L398.1,1040.4 L395.9,1042.4 L393.7,1044.5 L391.4,1046.5 L389.1,1048.5 L386.9,1050.6 L384.6,1052.6 L382.3,1054.6 L380.0,1056.5 L377.7,1058.5 L375.3,1060.5 L373.0,1062.5 L370.7,1064.4 L368.3,1066.4 L366.0,1068.3 L363.6,1070.3 L361.3,1072.2 L358.9,1074.2 L356.6,1076.1 L354.2,1078.0 L351.8,1080.0 L349.5,1081.9 L347.1,1083.8 L344.7,1085.7 L342.4,1087.7 L340.0,1089.6 L337.7,1091.5 L335.3,1093.4 L332.9,1095.4 L330.6,1097.3 L328.2,1099.2 L325.9,1101.2 L323.5,1103.1 L321.2,1105.1 L318.9,1107.0 L316.6,1109.0 L314.2,1110.9 L311.9,1112.9 L309.6,1114.9 L307.4,1116.9 L305.1,1118.9 L302.8,1120.9 L300.5,1122.9 L298.3,1124.9 L296.1,1127.0 L293.8,1129.0 L291.6,1131.1 L289.4,1133.1 L287.3,1135.2 L285.1,1137.3 L282.9,1139.4 L280.8,1141.5 L278.7,1143.7 L276.6,1145.8 L274.5,1148.0 L272.4,1150.2 L270.3,1152.4 L268.3,1154.7 L266.2,1156.9 L264.2,1159.2 L262.2,1161.5 L260.3,1163.8 L258.3,1166.2 L256.4,1168.5 L254.4,1170.9 L252.5,1173.3 L250.6,1175.8 L248.8,1178.2 L247.0,1180.7 L245.2,1183.3 L243.5,1185.8 L241.8,1188.4 L240.1,1191.0 L238.6,1193.6 L237.1,1196.3 L235.6,1199.0 L234.3,1201.7 L233.0,1204.5 L231.8,1207.2 L230.7,1210.0 L229.8,1212.9 L228.9,1215.8 L228.1,1218.7 L227.5,1221.6 L227.0,1224.6 L226.7,1227.5 L226.6,1230.5 L226.7,1233.4 L227.1,1236.3 L227.8,1239.2 L228.8,1241.9 L230.0,1244.7 L231.5,1247.3 L233.1,1249.9 L235.0,1252.3 L237.0,1254.7 L239.2,1257.0 L241.5,1259.1 L243.9,1261.1 L246.3,1263.1 L248.9,1264.9 L251.4,1266.7 L254.0,1268.3 L256.7,1269.8 L259.3,1271.3 L262.0,1272.7 L264.8,1274.0 L267.6,1275.2 L270.3,1276.4 L273.2,1277.5 L276.0,1278.5 L278.9,1279.5 L281.8,1280.5 L284.7,1281.4 L287.6,1282.2 L290.5,1283.1 L293.4,1283.9 L296.4,1284.7 L299.3,1285.5 L302.2,1286.2 L305.2,1287.0 L308.1,1287.8 L311.1,1288.5 L314.0,1289.3" fill="none" stroke="#1a1a1a" stroke-width="1.8" stroke-linejoin="round" stroke-dasharray="17.5 3 2.5 3"/>
<path d="M521.2,965.5 L520.9,965.7 L520.4,966.1 L519.0,967.2 L514.9,970.5 L507.8,976.2 L492.5,988.1 L464.0,1009.3 L441.9,1025.2 L411.8,1046.6 L372.9,1074.2 L330.5,1105.5 L292.0,1136.0 L260.5,1165.5 L239.3,1194.1 L229.1,1217.8 L226.7,1235.6 L233.1,1250.7 L246.7,1263.5 L262.7,1272.9 L280.6,1280.0 L297.3,1285.0 L311.6,1288.7" fill="none" stroke="#1a6eb6" stroke-width="2.6" stroke-linejoin="round" stroke-linecap="round"/>
<path d="M471.9,1016.6h6.9v6.9h-6.9zM471.6,1016.3h6.9v6.9h-6.9zM470.3,1017.0h6.9v6.9h-6.9zM469.4,1017.8h6.9v6.9h-6.9zM467.7,1017.3h6.9v6.9h-6.9zM467.6,1018.2h6.9v6.9h-6.9zM466.5,1018.1h6.9v6.9h-6.9zM465.1,1019.5h6.9v6.9h-6.9zM463.9,1020.2h6.9v6.9h-6.9zM463.7,1019.5h6.9v6.9h-6.9zM461.6,1020.6h6.9v6.9h-6.9zM461.7,1020.9h6.9v6.9h-6.9zM459.9,1021.5h6.9v6.9h-6.9zM458.7,1021.7h6.9v6.9h-6.9zM458.2,1022.6h6.9v6.9h-6.9zM457.0,1022.8h6.9v6.9h-6.9zM456.0,1023.5h6.9v6.9h-6.9zM455.1,1023.5h6.9v6.9h-6.9zM454.8,1024.7h6.9v6.9h-6.9zM453.6,1024.8h6.9v6.9h-6.9zM453.1,1026.2h6.9v6.9h-6.9zM451.1,1026.1h6.9v6.9h-6.9zM450.9,1027.1h6.9v6.9h-6.9zM450.2,1027.3h6.9v6.9h-6.9zM449.1,1028.2h6.9v6.9h-6.9zM447.6,1028.7h6.9v6.9h-6.9zM447.3,1029.6h6.9v6.9h-6.9zM446.0,1029.9h6.9v6.9h-6.9zM444.5,1030.1h6.9v6.9h-6.9zM444.5,1030.9h6.9v6.9h-6.9zM442.8,1031.7h6.9v6.9h-6.9zM442.5,1032.4h6.9v6.9h-6.9zM441.2,1032.8h6.9v6.9h-6.9zM440.5,1033.8h6.9v6.9h-6.9zM439.6,1034.0h6.9v6.9h-6.9zM438.7,1034.2h6.9v6.9h-6.9zM437.2,1035.6h6.9v6.9h-6.9zM437.5,1036.2h6.9v6.9h-6.9zM435.9,1036.3h6.9v6.9h-6.9zM435.1,1037.9h6.9v6.9h-6.9zM434.6,1038.1h6.9v6.9h-6.9zM433.8,1038.4h6.9v6.9h-6.9zM432.5,1039.9h6.9v6.9h-6.9zM431.7,1040.0h6.9v6.9h-6.9zM430.5,1040.8h6.9v6.9h-6.9zM430.5,1040.8h6.9v6.9h-6.9zM429.4,1042.5h6.9v6.9h-6.9zM428.7,1043.1h6.9v6.9h-6.9zM427.7,1043.5h6.9v6.9h-6.9zM426.6,1044.1h6.9v6.9h-6.9zM425.1,1045.3h6.9v6.9h-6.9zM424.9,1045.2h6.9v6.9h-6.9zM424.0,1046.3h6.9v6.9h-6.9zM423.0,1046.8h6.9v6.9h-6.9zM422.4,1047.9h6.9v6.9h-6.9zM421.6,1048.4h6.9v6.9h-6.9zM420.1,1048.9h6.9v6.9h-6.9zM419.4,1050.0h6.9v6.9h-6.9zM419.4,1051.0h6.9v6.9h-6.9zM418.5,1051.7h6.9v6.9h-6.9zM417.1,1052.5h6.9v6.9h-6.9zM416.7,1052.3h6.9v6.9h-6.9zM415.1,1053.0h6.9v6.9h-6.9zM415.2,1054.0h6.9v6.9h-6.9zM413.6,1055.2h6.9v6.9h-6.9zM413.1,1055.3h6.9v6.9h-6.9zM412.1,1056.6h6.9v6.9h-6.9zM411.3,1057.0h6.9v6.9h-6.9zM411.1,1058.0h6.9v6.9h-6.9zM409.8,1058.7h6.9v6.9h-6.9zM408.7,1059.4h6.9v6.9h-6.9zM408.3,1059.9h6.9v6.9h-6.9zM407.2,1061.5h6.9v6.9h-6.9zM406.9,1061.4h6.9v6.9h-6.9zM406.2,1062.9h6.9v6.9h-6.9zM404.7,1062.7h6.9v6.9h-6.9zM404.0,1064.3h6.9v6.9h-6.9zM403.2,1065.1h6.9v6.9h-6.9zM403.1,1065.6h6.9v6.9h-6.9zM401.7,1066.9h6.9v6.9h-6.9zM401.6,1067.1h6.9v6.9h-6.9zM400.1,1068.0h6.9v6.9h-6.9zM399.5,1068.7h6.9v6.9h-6.9zM398.7,1069.5h6.9v6.9h-6.9zM397.6,1069.9h6.9v6.9h-6.9zM397.9,1071.3h6.9v6.9h-6.9zM396.3,1072.1h6.9v6.9h-6.9zM395.5,1072.9h6.9v6.9h-6.9zM395.2,1073.1h6.9v6.9h-6.9zM393.8,1073.4h6.9v6.9h-6.9zM393.8,1074.1h6.9v6.9h-6.9zM392.9,1076.0h6.9v6.9h-6.9zM391.8,1075.8h6.9v6.9h-6.9z" fill="none" stroke="#f7941d" stroke-width="1.7"/>
<path d="M473.3,1017.2h7.6v7.6h-7.6zM470.0,1014.9h7.6v7.6h-7.6zM471.7,1017.1h7.6v7.6h-7.6zM470.5,1016.1h7.6v7.6h-7.6zM469.7,1017.2h7.6v7.6h-7.6zM468.9,1016.1h7.6v7.6h-7.6zM467.8,1017.1h7.6v7.6h-7.6zM468.1,1019.2h7.6v7.6h-7.6zM468.1,1018.1h7.6v7.6h-7.6zM466.0,1017.6h7.6v7.6h-7.6zM464.1,1017.1h7.6v7.6h-7.6zM464.7,1018.3h7.6v7.6h-7.6zM463.9,1020.3h7.6v7.6h-7.6z" fill="none" stroke="#f7941d" stroke-width="2.0"/>
<path d="M391.0,1076.4h7.3v7.3h-7.3zM388.2,1079.2h7.3v7.3h-7.3z" fill="none" stroke="#f7941d" stroke-width="1.4"/>
<path d="M386.6,1080.0h7.0v7.0h-7.0zM386.0,1080.9h7.0v7.0h-7.0zM384.6,1082.1h7.0v7.0h-7.0zM385.0,1083.5h7.0v7.0h-7.0zM383.9,1083.4h7.0v7.0h-7.0zM382.7,1084.3h7.0v7.0h-7.0zM381.3,1084.9h7.0v7.0h-7.0zM380.5,1086.9h7.0v7.0h-7.0zM380.5,1087.6h7.0v7.0h-7.0zM379.6,1087.5h7.0v7.0h-7.0zM377.9,1088.9h7.0v7.0h-7.0zM377.7,1090.1h7.0v7.0h-7.0zM377.0,1089.7h7.0v7.0h-7.0zM375.7,1091.4h7.0v7.0h-7.0zM374.7,1091.4h7.0v7.0h-7.0zM373.7,1092.1h7.0v7.0h-7.0zM373.5,1094.1h7.0v7.0h-7.0zM372.0,1094.0h7.0v7.0h-7.0zM371.7,1095.2h7.0v7.0h-7.0zM370.7,1096.4h7.0v7.0h-7.0z" fill="none" stroke="#f7941d" stroke-width="1.7"/>
<path d="M369.4,1096.8h7.3v7.3h-7.3zM367.8,1098.6h7.3v7.3h-7.3zM365.9,1100.1h7.3v7.3h-7.3zM363.0,1101.0h7.3v7.3h-7.3zM362.6,1102.8h7.3v7.3h-7.3zM360.6,1103.5h7.3v7.3h-7.3zM358.1,1105.3h7.3v7.3h-7.3zM356.4,1107.3h7.3v7.3h-7.3zM353.7,1108.2h7.3v7.3h-7.3zM352.3,1110.8h7.3v7.3h-7.3zM351.1,1111.1h7.3v7.3h-7.3zM349.3,1112.6h7.3v7.3h-7.3zM347.1,1114.1h7.3v7.3h-7.3z" fill="none" stroke="#f7941d" stroke-width="1.4"/>
<path d="M346.5,1116.1h7.2v7.2h-7.2zM344.7,1116.0h7.2v7.2h-7.2zM342.7,1117.6h7.2v7.2h-7.2zM342.3,1118.7h7.2v7.2h-7.2zM341.0,1119.6h7.2v7.2h-7.2zM339.6,1120.6h7.2v7.2h-7.2zM339.2,1120.8h7.2v7.2h-7.2zM337.7,1122.2h7.2v7.2h-7.2zM335.8,1122.9h7.2v7.2h-7.2zM335.8,1123.2h7.2v7.2h-7.2zM334.5,1124.9h7.2v7.2h-7.2zM333.4,1125.2h7.2v7.2h-7.2zM330.9,1126.9h7.2v7.2h-7.2zM330.9,1127.1h7.2v7.2h-7.2zM328.5,1127.6h7.2v7.2h-7.2zM328.2,1128.6h7.2v7.2h-7.2zM327.6,1130.1h7.2v7.2h-7.2zM325.0,1131.1h7.2v7.2h-7.2zM324.1,1132.5h7.2v7.2h-7.2zM323.9,1132.6h7.2v7.2h-7.2zM322.2,1133.8h7.2v7.2h-7.2zM321.2,1135.2h7.2v7.2h-7.2zM318.6,1134.9h7.2v7.2h-7.2zM318.4,1135.7h7.2v7.2h-7.2zM317.2,1136.2h7.2v7.2h-7.2zM316.5,1137.9h7.2v7.2h-7.2zM313.9,1139.0h7.2v7.2h-7.2zM313.0,1139.0h7.2v7.2h-7.2zM312.1,1139.8h7.2v7.2h-7.2zM310.4,1142.0h7.2v7.2h-7.2zM310.1,1141.3h7.2v7.2h-7.2zM309.0,1142.2h7.2v7.2h-7.2zM307.0,1144.6h7.2v7.2h-7.2zM306.3,1144.4h7.2v7.2h-7.2zM304.6,1145.4h7.2v7.2h-7.2zM302.9,1147.4h7.2v7.2h-7.2zM301.6,1147.2h7.2v7.2h-7.2z" fill="none" stroke="#f7941d" stroke-width="1.5"/>
<path d="M301.9,1147.9h7.3v7.3h-7.3zM298.1,1150.2h7.3v7.3h-7.3zM294.3,1152.3h7.3v7.3h-7.3zM291.6,1154.9h7.3v7.3h-7.3zM287.5,1157.7h7.3v7.3h-7.3zM283.6,1160.3h7.3v7.3h-7.3zM279.7,1163.2h7.3v7.3h-7.3zM275.9,1165.2h7.3v7.3h-7.3zM272.1,1167.8h7.3v7.3h-7.3zM268.9,1171.1h7.3v7.3h-7.3zM265.2,1172.9h7.3v7.3h-7.3zM261.4,1176.4h7.3v7.3h-7.3zM257.6,1178.7h7.3v7.3h-7.3zM254.3,1181.5h7.3v7.3h-7.3zM250.8,1184.4h7.3v7.3h-7.3zM247.6,1187.3h7.3v7.3h-7.3zM244.8,1190.4h7.3v7.3h-7.3zM241.0,1193.2h7.3v7.3h-7.3zM239.0,1197.1h7.3v7.3h-7.3zM235.7,1201.3h7.3v7.3h-7.3z" fill="none" stroke="#f7941d" stroke-width="1.25"/>
<path d="M235.1,1202.4h7.0v7.0h-7.0zM234.2,1204.0h7.0v7.0h-7.0zM233.4,1205.0h7.0v7.0h-7.0zM233.5,1205.9h7.0v7.0h-7.0zM232.7,1207.6h7.0v7.0h-7.0zM231.7,1208.7h7.0v7.0h-7.0zM231.8,1210.1h7.0v7.0h-7.0zM231.4,1211.2h7.0v7.0h-7.0zM230.6,1212.5h7.0v7.0h-7.0zM230.5,1214.5h7.0v7.0h-7.0zM230.3,1215.7h7.0v7.0h-7.0zM229.9,1217.1h7.0v7.0h-7.0zM229.5,1218.1h7.0v7.0h-7.0zM229.9,1219.9h7.0v7.0h-7.0zM229.7,1220.8h7.0v7.0h-7.0zM229.6,1222.3h7.0v7.0h-7.0zM229.7,1224.1h7.0v7.0h-7.0zM229.7,1225.6h7.0v7.0h-7.0zM230.4,1226.3h7.0v7.0h-7.0zM230.2,1228.0h7.0v7.0h-7.0zM230.2,1229.4h7.0v7.0h-7.0zM231.2,1230.5h7.0v7.0h-7.0zM231.4,1231.8h7.0v7.0h-7.0zM231.7,1233.8h7.0v7.0h-7.0zM231.9,1234.4h7.0v7.0h-7.0zM232.3,1236.2h7.0v7.0h-7.0zM232.7,1237.1h7.0v7.0h-7.0zM233.7,1239.1h7.0v7.0h-7.0zM234.2,1239.9h7.0v7.0h-7.0zM235.0,1240.9h7.0v7.0h-7.0zM235.7,1242.2h7.0v7.0h-7.0zM236.4,1244.0h7.0v7.0h-7.0zM236.7,1244.9h7.0v7.0h-7.0zM237.9,1245.7h7.0v7.0h-7.0zM238.4,1247.6h7.0v7.0h-7.0zM239.9,1248.0h7.0v7.0h-7.0zM240.5,1249.7h7.0v7.0h-7.0zM241.0,1250.5h7.0v7.0h-7.0zM241.8,1251.4h7.0v7.0h-7.0zM243.3,1252.6h7.0v7.0h-7.0zM244.3,1253.2h7.0v7.0h-7.0zM245.0,1254.8h7.0v7.0h-7.0zM246.2,1255.4h7.0v7.0h-7.0z" fill="none" stroke="#f7941d" stroke-width="1.5"/>
<path d="M246.5,1255.5h7.3v7.3h-7.3zM250.1,1258.1h7.3v7.3h-7.3zM254.1,1261.5h7.3v7.3h-7.3zM257.8,1263.1h7.3v7.3h-7.3zM261.7,1265.5h7.3v7.3h-7.3zM265.5,1268.2h7.3v7.3h-7.3zM270.6,1269.0h7.3v7.3h-7.3zM274.7,1271.4h7.3v7.3h-7.3zM278.4,1272.7h7.3v7.3h-7.3zM283.1,1274.5h7.3v7.3h-7.3zM287.5,1276.3h7.3v7.3h-7.3zM291.1,1278.0h7.3v7.3h-7.3zM296.5,1279.7h7.3v7.3h-7.3zM300.4,1280.1h7.3v7.3h-7.3zM304.0,1281.7h7.3v7.3h-7.3zM309.5,1283.3h7.3v7.3h-7.3z" fill="none" stroke="#f7941d" stroke-width="1.3"/>
<path d="M312.9,1285.1h6.8v6.8h-6.8zM314.3,1285.3h6.8v6.8h-6.8zM314.7,1285.6h6.8v6.8h-6.8zM315.3,1285.8h6.8v6.8h-6.8zM316.6,1286.4h6.8v6.8h-6.8zM316.9,1286.2h6.8v6.8h-6.8zM317.7,1286.9h6.8v6.8h-6.8zM319.2,1286.4h6.8v6.8h-6.8zM320.4,1287.6h6.8v6.8h-6.8zM320.9,1287.5h6.8v6.8h-6.8zM321.3,1287.2h6.8v6.8h-6.8zM322.5,1287.5h6.8v6.8h-6.8zM323.0,1287.9h6.8v6.8h-6.8zM323.7,1288.4h6.8v6.8h-6.8zM325.0,1289.0h6.8v6.8h-6.8zM325.9,1289.1h6.8v6.8h-6.8zM326.8,1289.3h6.8v6.8h-6.8zM327.6,1289.2h6.8v6.8h-6.8zM329.0,1290.2h6.8v6.8h-6.8zM329.7,1290.1h6.8v6.8h-6.8zM330.1,1289.9h6.8v6.8h-6.8zM330.9,1289.9h6.8v6.8h-6.8zM332.2,1290.5h6.8v6.8h-6.8zM333.2,1290.7h6.8v6.8h-6.8zM334.2,1291.4h6.8v6.8h-6.8zM334.1,1291.0h6.8v6.8h-6.8zM335.9,1291.5h6.8v6.8h-6.8zM336.8,1291.7h6.8v6.8h-6.8zM336.8,1292.1h6.8v6.8h-6.8zM338.4,1292.0h6.8v6.8h-6.8zM338.5,1292.3h6.8v6.8h-6.8zM340.3,1292.9h6.8v6.8h-6.8zM340.3,1292.6h6.8v6.8h-6.8zM341.2,1292.7h6.8v6.8h-6.8zM342.7,1293.0h6.8v6.8h-6.8zM343.4,1293.5h6.8v6.8h-6.8zM343.9,1294.0h6.8v6.8h-6.8zM344.7,1294.1h6.8v6.8h-6.8zM345.6,1294.1h6.8v6.8h-6.8zM346.5,1294.1h6.8v6.8h-6.8zM348.2,1294.9h6.8v6.8h-6.8zM348.4,1295.2h6.8v6.8h-6.8zM349.2,1294.9h6.8v6.8h-6.8z" fill="none" stroke="#f7941d" stroke-width="2.0"/>
<line x1="373.3" y1="980.6" x2="386.9" y2="980.6" stroke="#1a1a1a" stroke-width="1.2" />
<polygon points="371.3,980.6 379.9,975.8 379.9,985.4" fill="#1a1a1a"/>
<polygon points="388.9,980.6 380.3,975.8 380.3,985.4" fill="#1a1a1a"/>
<line x1="390.9" y1="949.4" x2="410.6" y2="949.4" stroke="#1a1a1a" stroke-width="1.2" />
<polygon points="388.9,949.4 397.5,944.6 397.5,954.2" fill="#1a1a1a"/>
<polygon points="412.6,949.4 404.0,944.6 404.0,954.2" fill="#1a1a1a"/>
<line x1="414.6" y1="980.4" x2="441.4" y2="980.4" stroke="#1a1a1a" stroke-width="1.2" />
<polygon points="412.6,980.4 421.2,975.6 421.2,985.2" fill="#1a1a1a"/>
<polygon points="443.4,980.4 434.8,975.6 434.8,985.2" fill="#1a1a1a"/>
<line x1="445.4" y1="947.6" x2="519.2" y2="947.6" stroke="#1a1a1a" stroke-width="1.2" />
<polygon points="443.4,947.6 452.0,942.8 452.0,952.4" fill="#1a1a1a"/>
<polygon points="521.2,947.6 512.6,942.8 512.6,952.4" fill="#1a1a1a"/>
<text x="373.6" y="969.8" font-size="25" text-anchor="start"  >1</text>
<text x="394.8" y="940.2" font-size="25" text-anchor="start"  >2</text>
<text x="423.0" y="969.5" font-size="25" text-anchor="start"  >3</text>
<text x="474.5" y="940.3" font-size="25" text-anchor="start"  >4</text>
<text x="77.6" y="1309.9" font-size="25" text-anchor="end"  >0</text>
<text x="79.0" y="1200.4" font-size="25" text-anchor="end"  >1</text>
<text x="79.0" y="1092.7" font-size="25" text-anchor="end"  >2</text>
<text x="79.0" y="985.0" font-size="25" text-anchor="end"  >3</text>
<text x="103.6" y="1330.5" font-size="25" text-anchor="start"  >-0.3</text>
<text x="185.8" y="1330.5" font-size="25" text-anchor="start"  >-0.2</text>
<text x="267.2" y="1330.5" font-size="25" text-anchor="start"  >-0.1</text>
<text x="371.3" y="1330.5" font-size="25" text-anchor="middle"  >0</text>
<text x="452.7" y="1330.5" font-size="25" text-anchor="middle"  >0.1</text>
<text x="534.1" y="1330.5" font-size="25" text-anchor="middle"  >0.2</text>
<text x="1.6" y="944.0" font-size="29.5" text-anchor="start"  >(c)</text>
<line x1="117.0" y1="967.1" x2="191.5" y2="967.1" stroke="#262626" stroke-width="1.2" />
<text x="145.3" y="957.1" font-size="30" text-anchor="start" class="i" >Z<tspan font-style="normal">'</tspan></text>
<text x="120.6" y="993.1" font-size="30" class="i">an</text>
<text x="151.0" y="1000.6" font-size="20.5">F</text>
<text x="165.4" y="993.1" font-size="30" class="i">p</text>
<text x="181.6" y="1000.6" font-size="20.5">F</text>
<line x1="454.1" y1="1251.0" x2="572.5" y2="1251.0" stroke="#262626" stroke-width="1.2" />
<text x="458.7" y="1239.4" font-size="30" class="i">Z</text>
<text x="475.3" y="1239.4" font-size="30">''</text>
<text x="487.4" y="1239.4" font-size="30">-</text>
<text x="498.0" y="1239.4" font-size="30" class="i">Z</text>
<text x="515.3" y="1239.4" font-size="30">''</text>
<text x="525.2" y="1247.0" font-size="22">ideal</text>
<text x="477.0" y="1274.0" font-size="30" class="i">an</text>
<text x="507.4" y="1281.5" font-size="20.5">F</text>
<text x="521.8" y="1274.0" font-size="30" class="i">p</text>
<text x="538.0" y="1281.5" font-size="20.5">F</text>
</svg></body></html>
